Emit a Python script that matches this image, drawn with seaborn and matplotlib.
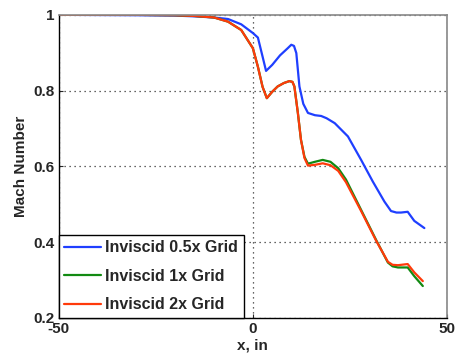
import matplotlib
matplotlib.use('Agg')
import matplotlib.pyplot as plt
import pandas as pd
import seaborn as sns

# blue: Inviscid 0.5x Grid
x_half = [-50, -30, -20, -15, -10, -6.4, -3, 0, 1.3, 2.5, 3.4, 5, 7, 9, 9.9, 10.6, 11.2, 12.0, 13,
          14.2, 16, 17.6, 19, 21.1, 24.5, 27.9, 30.9, 33.9, 35.6, 37, 38.2, 39.9, 41.6, 44.2]
y_half = [1.0, 0.999, 0.998, 0.996, 0.993, 0.989, 0.975, 0.952, 0.940, 0.89, 0.852, 0.868, 0.893,
          0.912, 0.921, 0.918, 0.899, 0.811, 0.765, 0.741, 0.735, 0.733, 0.727, 0.714, 0.679,
          0.617, 0.560, 0.507, 0.482, 0.478, 0.478, 0.480, 0.456, 0.437]

# green / red: 1x and 2x grids
x_fine = [-50, -30, -20, -15, -10, -6.4, -3, 0, 1.3, 2.5, 3.6, 5, 6.4, 8, 9.4, 10.2, 10.7, 11.6,
          12.4, 13.3, 14.2, 16, 18, 20, 22, 24, 27.9, 31.8, 34.8, 36, 37.4, 39.9, 41.6, 43.8]
y_1x = [1.0, 1.0, 0.999, 0.997, 0.993, 0.982, 0.960, 0.912, 0.863, 0.81, 0.780, 0.797, 0.811,
        0.820, 0.825, 0.823, 0.811, 0.741, 0.670, 0.625, 0.607, 0.612, 0.617, 0.612, 0.595,
        0.565, 0.485, 0.405, 0.346, 0.336, 0.333, 0.333, 0.310, 0.284]
y_2x = [1.0, 1.0, 0.999, 0.997, 0.993, 0.982, 0.960, 0.912, 0.863, 0.81, 0.780, 0.797, 0.811,
        0.820, 0.825, 0.823, 0.811, 0.741, 0.670, 0.622, 0.602, 0.604, 0.608, 0.603, 0.588,
        0.558, 0.482, 0.403, 0.348, 0.340, 0.339, 0.342, 0.320, 0.297]

labels = ['Inviscid 0.5x Grid', 'Inviscid 1x Grid', 'Inviscid 2x Grid']
colors = ['#1f3fff', '#128a12', '#ff3a0a']

df = pd.concat([
    pd.DataFrame({'x': x_half, 'M': y_half, 'case': labels[0]}),
    pd.DataFrame({'x': x_fine, 'M': y_1x, 'case': labels[1]}),
    pd.DataFrame({'x': x_fine, 'M': y_2x, 'case': labels[2]}),
])

sns.set_style('ticks')
plt.rcParams['font.family'] = ['Liberation Sans', 'DejaVu Sans']
plt.rcParams['font.weight'] = 'bold'
plt.rcParams['axes.unicode_minus'] = False

fig = plt.figure(figsize=(4.56, 3.62), dpi=100)
ax = fig.add_axes([0.129, 0.122, 0.851, 0.837])
sns.lineplot(data=df, x='x', y='M', hue='case', palette=colors, sort=False,
             linewidth=1.6, ax=ax, legend=False)

ax.set_xlim(-50, 50)
ax.set_ylim(0.2, 1.0)
ax.set_xticks([-50, 0, 50])
ax.set_yticks([0.2, 0.4, 0.6, 0.8, 1.0])
ax.set_yticklabels(['0.2', '0.4', '0.6', '0.8', '1'])
ax.tick_params(direction='in', length=3, labelsize=11, pad=3)
for t in ax.get_xticklabels() + ax.get_yticklabels():
    t.set_fontweight('bold')
ax.grid(True, linestyle=(0, (1, 3)), color='#333333', linewidth=0.9)
ax.set_xlabel('x, in', fontsize=11, fontweight='bold', labelpad=2)
ax.set_ylabel('Mach Number', fontsize=11, fontweight='bold', labelpad=4)

for s in ['left', 'bottom']:
    ax.spines[s].set_color('black')
    ax.spines[s].set_linewidth(1.0)
for s in ['top', 'right']:
    ax.spines[s].set_color('#888888')
    ax.spines[s].set_linewidth(1.2)

handles = [plt.Line2D([], [], color=c, linewidth=1.6) for c in colors]
leg = ax.legend(handles, labels, loc='lower left', borderaxespad=0, fancybox=False,
                framealpha=1, edgecolor='black', prop={'weight': 'bold', 'size': 11.5},
                handlelength=2.3, labelspacing=0.85, handletextpad=0.25, borderpad=0.35)
leg.get_frame().set_linewidth(1.0)

fig.savefig('out.png', dpi=100)
